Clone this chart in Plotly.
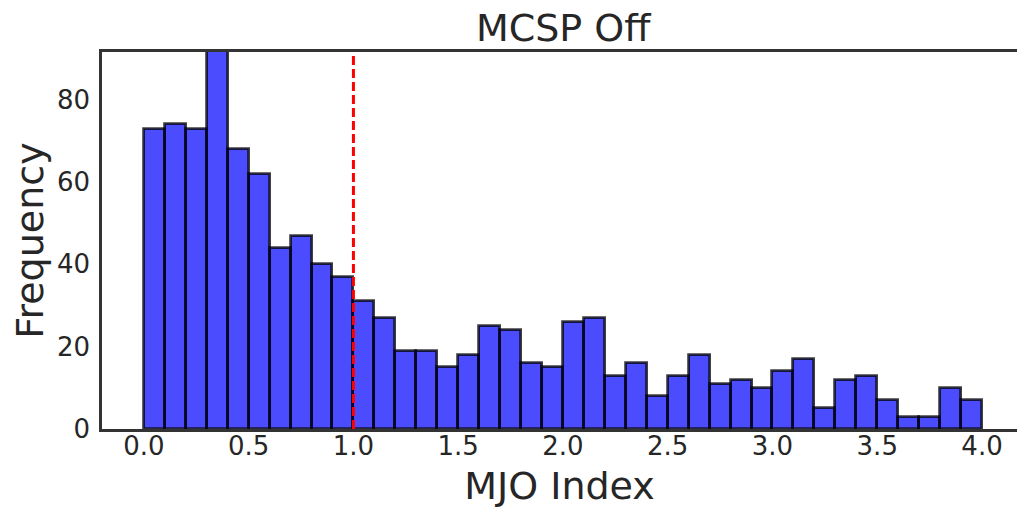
import plotly.graph_objects as go

# Histogram of MJO index, bin width 0.1 from 0.0 to 4.0
bin_starts = [0.0, 0.1, 0.2, 0.3, 0.4, 0.5, 0.6, 0.7, 0.8, 0.9,
              1.0, 1.1, 1.2, 1.3, 1.4, 1.5, 1.6, 1.7, 1.8, 1.9,
              2.0, 2.1, 2.2, 2.3, 2.4, 2.5, 2.6, 2.7, 2.8, 2.9,
              3.0, 3.1, 3.2, 3.3, 3.4, 3.5, 3.6, 3.7, 3.8, 3.9]
counts = [73, 74, 73, 92, 68, 62, 44, 47, 40, 37,
          31, 27, 19, 19, 15, 18, 25, 24, 16, 15,
          26, 27, 13, 16, 8, 13, 18, 11, 12, 10,
          14, 17, 5, 12, 13, 7, 3, 3, 10, 7]
bin_width = 0.1
threshold = 1.0
x_ticks = [0.0, 0.5, 1.0, 1.5, 2.0, 2.5, 3.0, 3.5, 4.0]
y_ticks = [0, 20, 40, 60, 80]

TEXT = "#262626"
FONT = "DejaVu Sans"

fig = go.Figure()
fig.add_trace(go.Bar(
    x=bin_starts, y=counts, width=bin_width, offset=0,
    marker=dict(color="rgba(0,0,255,0.7)",
                line=dict(color="rgba(0,0,0,0.75)", width=2.8)),
    showlegend=False,
))

fig.add_shape(type="line", x0=threshold, x1=threshold, y0=0, y1=1,
              xref="x", yref="y domain",
              line=dict(color="red", width=3, dash="9px,4px"), layer="above")

fig.update_layout(
    width=1017, height=508,
    margin=dict(l=102, r=0, t=52, b=79),
    plot_bgcolor="white", paper_bgcolor="white",
    bargap=0,
    font=dict(family=FONT, color=TEXT),
    title=dict(text="MCSP Off", x=0.504, xanchor="center", xref="paper",
               y=1 - 28 / 508, yanchor="middle", yref="container",
               font=dict(size=38, color=TEXT, family=FONT)),
)
fig.update_xaxes(
    range=[-0.2, 4.167], tickvals=x_ticks,
    ticktext=[f"{v:.1f}" for v in x_ticks],
    tickfont=dict(size=26, color=TEXT),
    showgrid=False, zeroline=False,
    showline=True, linecolor="#333333", linewidth=2.5, mirror=True,
    ticks="", ticklen=0, ticklabelstandoff=-8,
    title=dict(text="MJO Index", font=dict(size=38, color=TEXT), standoff=14),
)
fig.update_yaxes(
    range=[0, 91.6], tickvals=y_ticks,
    tickfont=dict(size=26, color=TEXT),
    showgrid=False, zeroline=False,
    showline=True, linecolor="#333333", linewidth=2.5, mirror=False,
    ticks="", ticklen=0, ticklabelstandoff=4,
    title=dict(text="Frequency", font=dict(size=38, color=TEXT), standoff=2),
)

fig.write_html("out.html")
